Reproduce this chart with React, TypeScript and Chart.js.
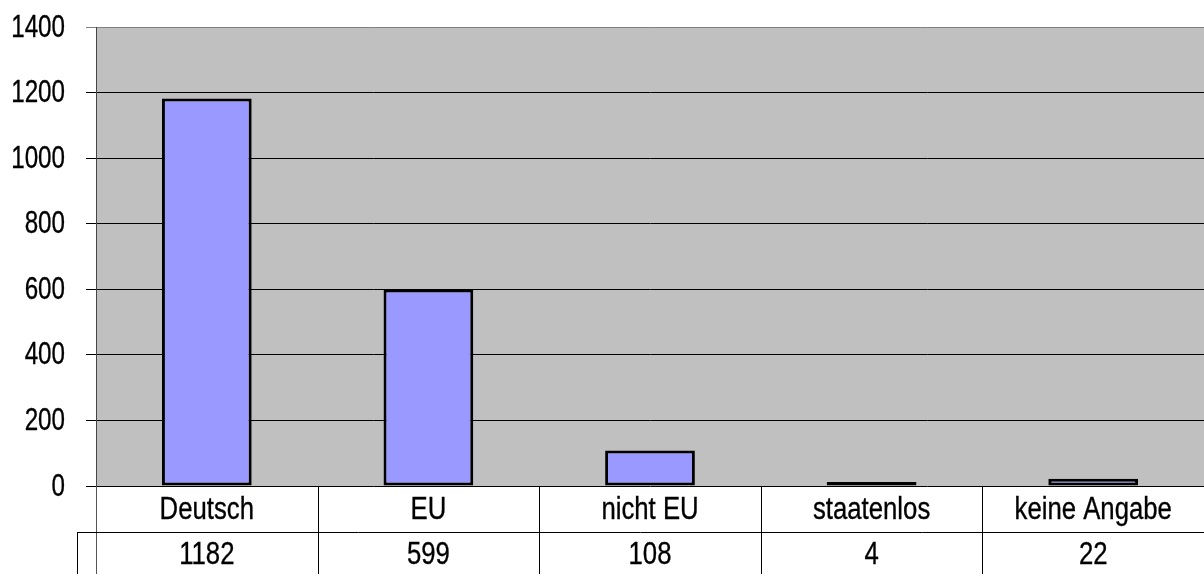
import React, { useEffect, useRef } from "react";
import { Chart, registerables } from "chart.js";

Chart.register(...registerables);

const categories = ["Deutsch", "EU", "nicht EU", "staatenlos", "keine Angabe"];
const values = [1182, 599, 108, 4, 22];
const yTicks = [0, 200, 400, 600, 800, 1000, 1200, 1400];

const FONT = "'Liberation Sans', Arial, sans-serif";

function drawNarrow(ctx: any, text: string, x: number, y: number, sx: number, align: string) {
  ctx.save();
  ctx.translate(x, y);
  ctx.scale(sx, 1);
  ctx.textAlign = align;
  ctx.fillText(text, 0, 0);
  ctx.lineWidth = 0.35;
  ctx.strokeStyle = "#000000";
  ctx.strokeText(text, 0, 0);
  ctx.restore();
}

const plotBg = {
  id: "plotBg",
  beforeDraw(chart: any) {
    const { ctx, chartArea } = chart;
    ctx.save();
    ctx.fillStyle = "#C0C0C0";
    ctx.fillRect(chartArea.left, chartArea.top, chartArea.right - chartArea.left, chartArea.bottom - chartArea.top);
    ctx.restore();
  },
};

const yLabels = {
  id: "yLabels",
  afterDraw(chart: any) {
    const { ctx } = chart;
    const y = chart.scales.y;
    ctx.save();
    ctx.fillStyle = "#000000";
    ctx.font = `31px ${FONT}`;
    ctx.textBaseline = "middle";
    yTicks.forEach((v) => {
      drawNarrow(ctx, String(v), 65, y.getPixelForValue(v) + 1, 0.78, "right");
    });
    ctx.restore();
  },
};

const dataTable = {
  id: "dataTable",
  afterDraw(chart: any) {
    const { ctx, chartArea } = chart;
    const x = chart.scales.x;
    const catW = x.getPixelForValue(1) - x.getPixelForValue(0);
    const left = x.getPixelForValue(0) - catW / 2;
    const top = chartArea.bottom;
    const row1Bottom = top + 46;
    const bottom = chart.height + 2;
    ctx.save();
    ctx.lineWidth = 1;
    for (let i = 0; i <= categories.length; i++) {
      const bx = Math.round(left + i * catW) + 0.5;
      ctx.strokeStyle = i === 0 ? "#555555" : "#000000";
      ctx.beginPath();
      ctx.moveTo(bx, top);
      ctx.lineTo(bx, bottom);
      ctx.stroke();
    }
    ctx.strokeStyle = "#000000";
    ctx.beginPath();
    ctx.moveTo(77, row1Bottom + 0.5);
    ctx.lineTo(chart.width, row1Bottom + 0.5);
    ctx.stroke();
    ctx.beginPath();
    ctx.moveTo(77.5, row1Bottom);
    ctx.lineTo(77.5, bottom);
    ctx.stroke();
    ctx.fillStyle = "#000000";
    ctx.font = `31px ${FONT}`;
    ctx.textBaseline = "middle";
    categories.forEach((c, i) => {
      const cx = x.getPixelForValue(i);
      drawNarrow(ctx, c, cx, top + 24, 0.83, "center");
      drawNarrow(ctx, String(values[i]), cx, row1Bottom + 23, 0.83, "center");
    });
    ctx.restore();
  },
};

export default function App() {
  const ref = useRef<HTMLCanvasElement>(null);
  useEffect(() => {
    if (!ref.current) return;
    const chart = new Chart(ref.current, {
      type: "bar",
      data: {
        labels: categories,
        datasets: [
          {
            data: values,
            backgroundColor: "#9999FF",
            borderColor: "#000000",
            borderWidth: 3,
            borderSkipped: false,
            barPercentage: 0.405,
            categoryPercentage: 1,
            minBarLength: 4,
          },
        ],
      },
      options: {
        animation: false,
        responsive: true,
        maintainAspectRatio: false,
        layout: { padding: { top: 27, bottom: 88, left: 0, right: 0 } },
        plugins: { legend: { display: false }, tooltip: { enabled: false }, title: { display: false } },
        scales: {
          x: { display: false },
          y: {
            min: 0,
            max: 1400,
            afterFit: (s: any) => {
              s.width = 96;
            },
            afterBuildTicks: (s: any) => {
              s.ticks = yTicks.map((v) => ({ value: v }));
            },
            ticks: { display: false },
            grid: {
              color: (c: any) => (c.tick && c.tick.value === 1400 ? "#808080" : "#000000"),
              lineWidth: 1,
              tickLength: 10,
            },
            border: { display: true, color: "#444444", width: 1 },
          },
        },
      },
      plugins: [plotBg, yLabels, dataTable],
    });
    return () => chart.destroy();
  }, []);
  return (
    <div style={{ position: "fixed", left: 0, top: 0, width: 1204, height: 574, background: "#fff" }}>
      <canvas ref={ref} />
    </div>
  );
}
